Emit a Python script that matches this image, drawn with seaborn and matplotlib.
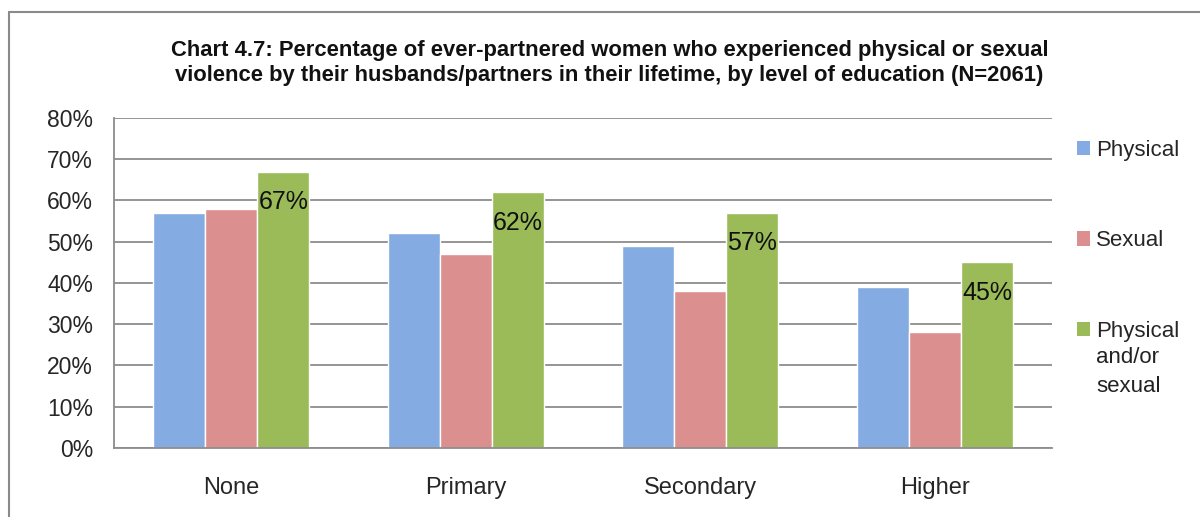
import matplotlib
matplotlib.use("Agg")
import matplotlib.pyplot as plt
from matplotlib.patches import Patch
from matplotlib.lines import Line2D
from matplotlib.text import Annotation
import seaborn as sns
import pandas as pd

# Survey figures: share of ever-partnered women experiencing violence (%)
levels = ["None", "Primary", "Secondary", "Higher"]
physical = [57, 52, 49, 39]
sexual = [58, 47, 38, 28]
physical_or_sexual = [67, 62, 57, 45]
series_names = ["Physical", "Sexual", "Physical and/or sexual"]
legend_labels = ["Physical", "Sexual", "Physical"]
legend_continuation = "and/or\nsexual"
y_ticks = [0, 10, 20, 30, 40, 50, 60, 70, 80]
title = ("Chart 4.7: Percentage of ever-partnered women who experienced physical or sexual\n"
         "violence by their husbands/partners in their lifetime, by level of education (N=2061)")

colors = ["#84ACE2", "#DB8F8F", "#9BBB59"]
grid_gray = "#8C8C8C"

sns.set_theme(style="white")
plt.rcParams["font.family"] = ["Liberation Sans", "DejaVu Sans"]

df = pd.DataFrame({
    "level": levels * 3,
    "series": [s for s in series_names for _ in levels],
    "pct": physical + sexual + physical_or_sexual,
})

fig = plt.figure(figsize=(12, 5.17), dpi=100)
ax = fig.add_axes([0.095, 0.1335, 0.7817, 0.6383])

sns.barplot(data=df, x="level", y="pct", hue="series", order=levels,
            hue_order=series_names, palette=colors, width=0.667, gap=0,
            saturation=1, legend=False, ax=ax, errorbar=None)

ax.set_ylim(0, 80)
ax.set_xlim(-0.5, 3.5)
ax.set_yticks(y_ticks)
ax.set_yticklabels([f"{t}%" for t in y_ticks], fontsize=16.5)
ax.set_xticks(range(len(levels)))
ax.set_xticklabels(levels, fontsize=17)
ax.tick_params(axis="y", length=0, pad=15)
ax.tick_params(axis="x", length=0, pad=21)
ax.set_xlabel("")
ax.set_ylabel("")

ax.yaxis.grid(True, color=grid_gray, linewidth=1.3)
ax.set_axisbelow(True)
for side in ["top", "right"]:
    ax.spines[side].set_visible(False)
for side in ["left", "bottom"]:
    ax.spines[side].set_color(grid_gray)
    ax.spines[side].set_linewidth(1.3)

# Value labels inside the top of the combined bars
for bar, val in zip(ax.containers[2], physical_or_sexual):
    ax.annotate(f"{val}%", (bar.get_x() + bar.get_width() / 2, bar.get_height()),
                xytext=(0, -22), textcoords="offset points", ha="center",
                va="center", fontsize=18, color="#111111")

handles = [Patch(facecolor=c, edgecolor="none") for c in colors]
leg = fig.legend(handles, legend_labels, loc="upper left",
                 bbox_to_anchor=(1077 / 1200, 1 - 140 / 517), frameon=False,
                 fontsize=16, handlelength=0.6, handleheight=0.6,
                 handletextpad=0.25, labelspacing=3.12, borderpad=0,
                 borderaxespad=0)
# Remaining lines of the third legend label, set under its first line
cont = Annotation(legend_continuation, xy=(0, 0), xycoords=leg.texts[2],
                  xytext=(0, -4), textcoords="offset points", ha="left",
                  va="top", fontsize=16, linespacing=1.5, color="#222222")
cont.set_zorder(20)
fig.add_artist(cont)

fig.text(0.508, 1 - 63 / 517, title, ha="center", va="center",
         fontsize=15.8, fontweight="bold", linespacing=1.25,
         color="#111111")

# Outer chart frame (top and left edges)
fig.add_artist(Line2D([9 / 1200, 9 / 1200], [0, 1 - 12 / 517],
                      transform=fig.transFigure, color="#8A8A8A", linewidth=1.5))
fig.add_artist(Line2D([9 / 1200, 1], [1 - 12 / 517, 1 - 12 / 517],
                      transform=fig.transFigure, color="#8A8A8A", linewidth=1.5))

fig.canvas.draw()
fig.savefig("out.png", dpi=100)
